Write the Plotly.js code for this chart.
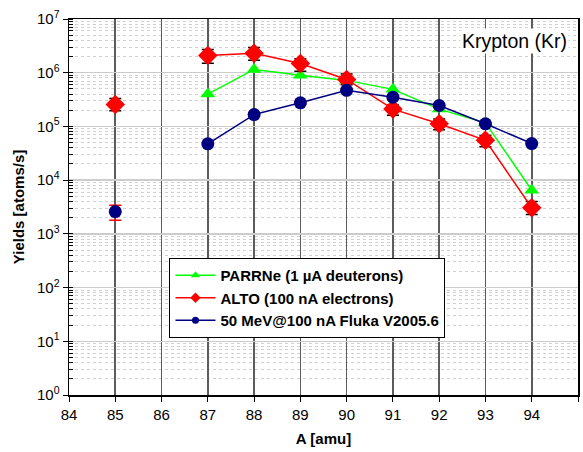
<!DOCTYPE html>
<html><head><meta charset="utf-8">
<script src="https://cdn.plot.ly/plotly-3.0.1.min.js"></script>
<style>html,body{margin:0;padding:0;background:#fff}#c{width:583px;height:452px}</style>
</head><body><div id="c"></div>
<script>
// isolated point at A = 85 (not connected to the rest)
const isoA = [85];
const altoIsoY = [2.55e5], altoIsoHi = [3.3e5], altoIsoLo = [1.95e5];
const flukaIsoY = [2.6e3], flukaIsoHi = [3.4e3], flukaIsoLo = [1.8e3];
// connected series A = 87..94
const massA = [87, 88, 89, 90, 91, 92, 93, 94];
const parrneY = [4.0e5, 1.15e6, 9.0e5, 7.2e5, 4.9e5, 2.1e5, 1.17e5, 6.5e3];
const altoY = [2.1e6, 2.3e6, 1.48e6, 7.5e5, 2.1e5, 1.12e5, 5.5e4, 3.06e3];
const altoHi = [2.7e6, 2.95e6, 1.82e6, 9.5e5, 2.5e5, 1.38e5, 6.8e4, 4.0e3];
const altoLo = [1.5e6, 1.7e6, 1.07e6, 6.0e5, 1.62e5, 8.7e4, 4.2e4, 2.3e3];
const flukaY = [4.75e4, 1.66e5, 2.75e5, 4.7e5, 3.5e5, 2.45e5, 1.12e5, 4.8e4];
const flukaHi = [5.1e4, 1.76e5, 2.9e5, 4.95e5, 3.7e5, 2.6e5, 1.18e5, 5.0e4];
const flukaLo = [4.4e4, 1.56e5, 2.6e5, 4.45e5, 3.3e5, 2.3e5, 1.06e5, 4.6e4];
const names = ['PARRNe (1 \u00b5A deuterons)', 'ALTO (100 nA electrons)', '50 MeV@100 nA Fluka V2005.6'];
const xTicks = [84, 85, 86, 87, 88, 89, 90, 91, 92, 93, 94, 95];
const yTickVals = [1, 10, 100, 1e3, 1e4, 1e5, 1e6, 1e7];
const yTickText = ['10<sup>0</sup>', '10<sup>1</sup>', '10<sup>2</sup>', '10<sup>3</sup>', '10<sup>4</sup>', '10<sup>5</sup>', '10<sup>6</sup>', '10<sup>7</sup>'];

const diff = (a, b) => a.map((v, i) => v - b[i]);
const GREEN = '#00ff00', RED = '#ff0000', NAVY = '#000080';

const altoMarker = {symbol: 'diamond', size: 15, color: RED};
const flukaMarker = {symbol: 'circle', size: 13, color: NAVY};
const altoErr = (y, hi, lo) => ({type: 'data', symmetric: false, array: diff(hi, y), arrayminus: diff(y, lo), color: '#000', thickness: 1.5, width: 6});
const flukaErr = (y, hi, lo) => ({type: 'data', symmetric: false, array: diff(hi, y), arrayminus: diff(y, lo), color: RED, thickness: 1.5, width: 6});

const traces = [
  {x: massA, y: parrneY, mode: 'lines+markers', showlegend: false,
   line: {color: GREEN, width: 1.5}, marker: {symbol: 'triangle-up', size: 13, color: GREEN}},
  {x: massA, y: altoY, mode: 'lines+markers', showlegend: false,
   line: {color: RED, width: 1.5}, marker: altoMarker, error_y: altoErr(altoY, altoHi, altoLo)},
  {x: isoA, y: altoIsoY, mode: 'markers', showlegend: false,
   marker: altoMarker, error_y: altoErr(altoIsoY, altoIsoHi, altoIsoLo)},
  {x: massA, y: flukaY, mode: 'lines+markers', showlegend: false,
   line: {color: NAVY, width: 1.5}, marker: flukaMarker, error_y: flukaErr(flukaY, flukaHi, flukaLo)},
  {x: isoA, y: flukaIsoY, mode: 'markers', showlegend: false,
   marker: flukaMarker, error_y: flukaErr(flukaIsoY, flukaIsoHi, flukaIsoLo)},
  {x: [null], y: [null], name: '<b>' + names[0] + '</b>', mode: 'lines+markers', line: {color: GREEN, width: 1.5}, marker: {symbol: 'triangle-up', size: 8, color: GREEN}},
  {x: [null], y: [null], name: '<b>' + names[1] + '</b>', mode: 'lines+markers', line: {color: RED, width: 1.5}, marker: {symbol: 'diamond', size: 8, color: RED}},
  {x: [null], y: [null], name: '<b>' + names[2] + '</b>', mode: 'lines+markers', line: {color: NAVY, width: 1.5}, marker: {symbol: 'circle', size: 7, color: NAVY}}
];

const layout = {
  width: 583, height: 452,
  margin: {l: 68.5, r: 5, t: 19, b: 56.5},
  paper_bgcolor: '#fff', plot_bgcolor: '#fff',
  font: {family: 'Liberation Sans, Arial, sans-serif', color: '#000', size: 15},
  xaxis: {
    range: [84, 95], tickvals: xTicks, ticktext: xTicks.map(String),
    showline: true, linecolor: '#000', linewidth: 1.5, mirror: true,
    ticks: 'outside', ticklen: 5, tickcolor: '#000',
    showgrid: true, gridcolor: '#5c5c5c', gridwidth: 1.6, zeroline: false,
    tickfont: {size: 15},
    title: {text: '<b>A [amu]</b>', font: {size: 15}, standoff: 12}
  },
  yaxis: {
    type: 'log', range: [0, 7], tickvals: yTickVals, ticktext: yTickText,
    showline: true, linecolor: '#000', linewidth: 1.5, mirror: true,
    ticks: 'outside', ticklen: 5, tickcolor: '#000',
    showgrid: true, gridcolor: '#cccccc', gridwidth: 1.5, zeroline: false,
    tickfont: {size: 15},
    minor: {dtick: 'D1', ticks: 'inside', ticklen: 4, tickcolor: '#000', showgrid: true, gridcolor: '#d0d0d0', griddash: 'dot', gridwidth: 1},
    title: {text: '<b>Yields [atoms/s]</b>', font: {size: 15}, standoff: 8}
  },
  legend: {
    x: 0.197, y: 0.365, xanchor: 'left', yanchor: 'top',
    bgcolor: '#fff', bordercolor: '#000', borderwidth: 1.2,
    font: {size: 15, family: 'Liberation Sans, Arial, sans-serif'},
    tracegroupgap: 0, itemwidth: 40
  },
  annotations: [{
    text: 'Krypton (Kr)', xref: 'paper', yref: 'paper', x: 0.983, y: 0.975,
    xanchor: 'right', yanchor: 'top', showarrow: false, font: {size: 19.5}, bgcolor: '#fff'
  }],
  showlegend: true
};

Plotly.newPlot('c', traces, layout, {displayModeBar: false, staticPlot: true});
</script>
</body></html>
